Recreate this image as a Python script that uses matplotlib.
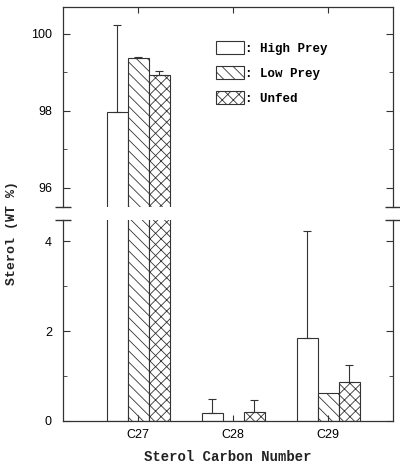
import numpy as np
import matplotlib
matplotlib.use("Agg")
import matplotlib.pyplot as plt
from matplotlib.patches import Patch

# data
groups = ["C27", "C28", "C29"]
series = ["High Prey", "Low Prey", "Unfed"]
high_prey = [97.98, 0.18, 1.84]
high_prey_err = [2.25, 0.31, 2.38]
low_prey = [99.38, 0.0, 0.62]
low_prey_err = [0.02, 0.0, 0.0]
unfed = [98.94, 0.20, 0.87]
unfed_err = [0.09, 0.27, 0.37]

values = [high_prey, low_prey, unfed]
errors = [high_prey_err, low_prey_err, unfed_err]
hatches = ["", "\\\\\\", "xxx"]

plt.rcParams["hatch.linewidth"] = 0.6
ink = "#333333"
mono = "Liberation Mono"

fig = plt.figure(figsize=(4.0, 4.66), dpi=100)
ax_top = fig.add_axes([0.1575, 0.5558, 0.825, 0.4292])
ax_bot = fig.add_axes([0.1575, 0.0966, 0.825, 0.4313])

x = np.arange(len(groups))
width = 0.22

for ax in (ax_top, ax_bot):
    for i, (vals, errs, h) in enumerate(zip(values, errors, hatches)):
        pos = x + (i - 1) * width
        ax.bar(pos, vals, width, color="white", edgecolor=ink, hatch=h,
               linewidth=0.8)
        e = np.array(errs)
        mask = e > 0
        ax.errorbar(pos[mask], np.array(vals)[mask],
                    yerr=[np.zeros(mask.sum()), e[mask]],
                    fmt="none", ecolor=ink, elinewidth=0.8, capsize=3,
                    capthick=0.8)
    ax.set_xlim(-0.79, 2.68)
    for s in ax.spines.values():
        s.set_color(ink)
        s.set_linewidth(0.9)

ax_top.set_ylim(95.5, 100.7)
ax_bot.set_ylim(0, 4.47)

ax_top.spines["bottom"].set_visible(False)
ax_bot.spines["top"].set_visible(False)

ax_top.set_yticks([96, 98, 100])
ax_top.set_yticks([97, 99], minor=True)
ax_bot.set_yticks([0, 2, 4])
ax_bot.set_yticks([1, 3], minor=True)

ax_top.set_xticks(x)
ax_top.tick_params(axis="x", which="both", bottom=False, top=True,
                   labelbottom=False, direction="in", length=4, color=ink)
ax_bot.set_xticks(x)
ax_bot.set_xticklabels(groups, fontsize=9, family="Liberation Sans")
ax_bot.tick_params(axis="x", bottom=True, top=False, direction="in",
                   length=4, color=ink, pad=6)

for ax in (ax_top, ax_bot):
    ax.tick_params(axis="y", which="major", left=True, right=True,
                   direction="in", length=5, color=ink, labelsize=9, pad=8)
    ax.tick_params(axis="y", which="minor", left=True, right=True,
                   direction="in", length=3, color=ink)
    for lab in ax.get_yticklabels():
        lab.set_family("Liberation Sans")

# break marks at the ends of the split spines
kw = dict(marker="_", markersize=12, color=ink, mew=1.0, clip_on=False,
          linestyle="none")
ax_top.plot([0, 1], [0, 0], transform=ax_top.transAxes, **kw)
ax_bot.plot([0, 1], [1, 1], transform=ax_bot.transAxes, **kw)

ax_bot.set_xlabel("Sterol Carbon Number", family=mono, fontsize=10,
                  fontweight="bold", labelpad=6, color="#222222")
fig.text(0.03, 0.5, "Sterol (WT %)", rotation=90, family=mono, fontsize=9.5,
         fontweight="bold", ha="center", va="center", color="#222222")

handles = [Patch(facecolor="white", edgecolor=ink, hatch=h, linewidth=0.8)
           for h in hatches]
ax_top.legend(handles, [": " + s for s in series], loc="upper left",
              bbox_to_anchor=(0.43, 0.885), frameon=False,
              prop={"family": mono, "weight": "bold", "size": 9},
              handlelength=2.2, handleheight=1.2, handletextpad=0.1,
              labelspacing=0.9)

fig.savefig("out.png", dpi=100)
